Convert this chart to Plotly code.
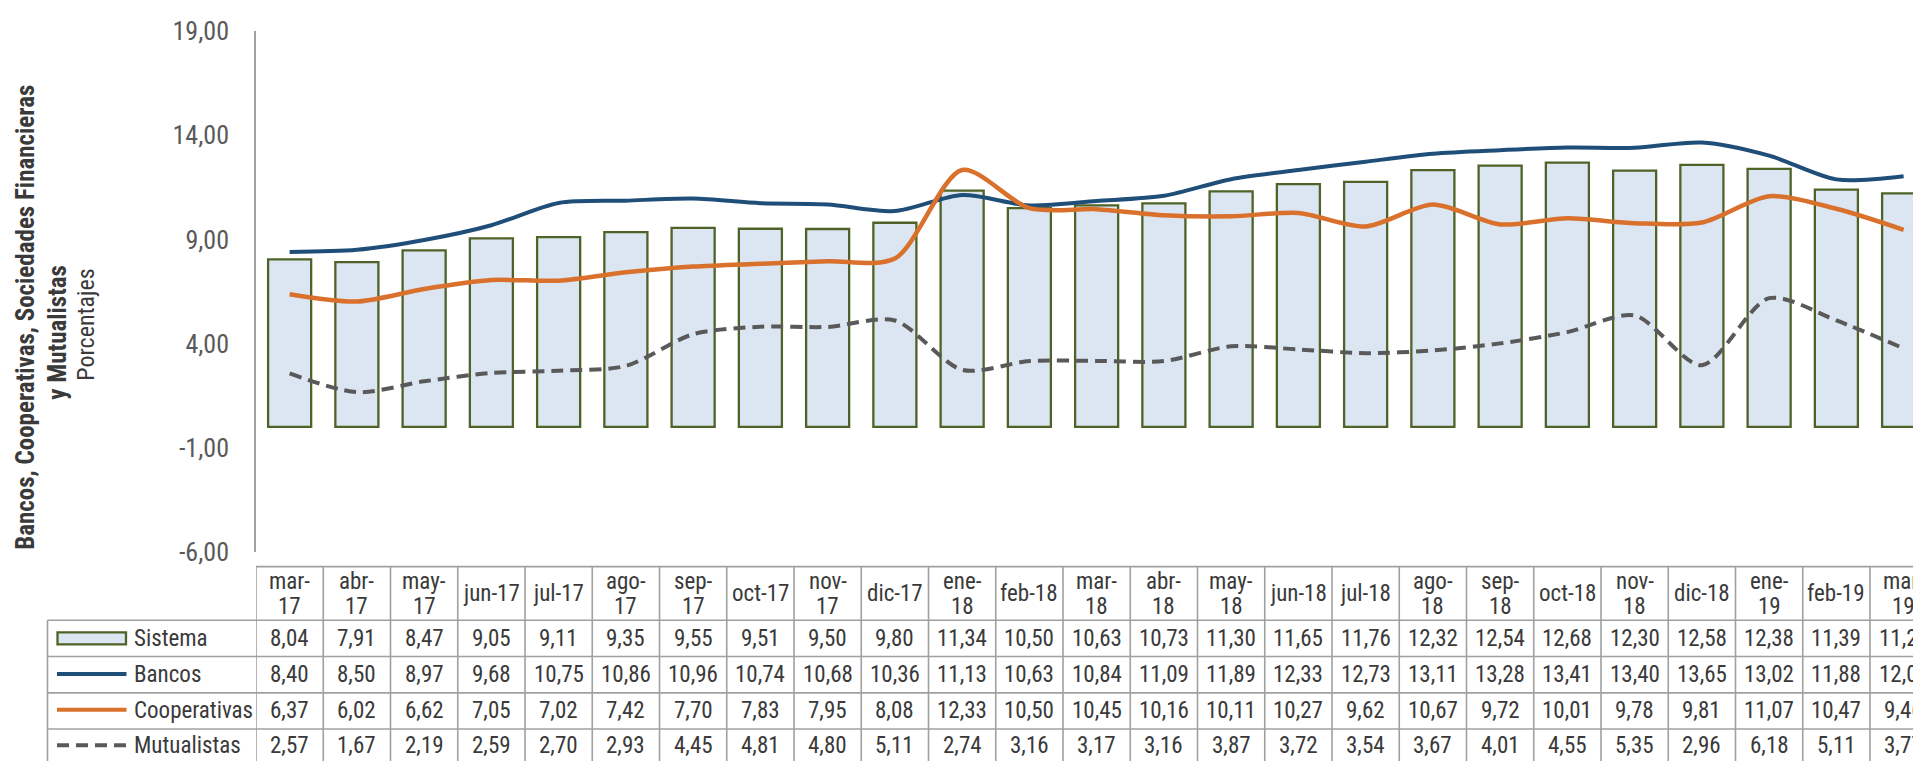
import plotly.graph_objects as go

# --- data -------------------------------------------------------------
months = ["mar-17", "abr-17", "may-17", "jun-17", "jul-17", "ago-17", "sep-17",
          "oct-17", "nov-17", "dic-17", "ene-18", "feb-18", "mar-18", "abr-18",
          "may-18", "jun-18", "jul-18", "ago-18", "sep-18", "oct-18", "nov-18",
          "dic-18", "ene-19", "feb-19", "mar-19"]
# header text as wrapped in the data table
header_labels = ["mar-|17", "abr-|17", "may-|17", "jun-17", "jul-17", "ago-|17", "sep-|17",
                 "oct-17", "nov-|17", "dic-17", "ene-|18", "feb-18", "mar-|18", "abr-|18",
                 "may-|18", "jun-18", "jul-18", "ago-|18", "sep-|18", "oct-18", "nov-|18",
                 "dic-18", "ene-|19", "feb-19", "mar-|19"]

sistema = [8.04, 7.91, 8.47, 9.05, 9.11, 9.35, 9.55, 9.51, 9.50, 9.80, 11.34, 10.50,
           10.63, 10.73, 11.30, 11.65, 11.76, 12.32, 12.54, 12.68, 12.30, 12.58, 12.38,
           11.39, 11.21]
bancos = [8.40, 8.50, 8.97, 9.68, 10.75, 10.86, 10.96, 10.74, 10.68, 10.36, 11.13, 10.63,
          10.84, 11.09, 11.89, 12.33, 12.73, 13.11, 13.28, 13.41, 13.40, 13.65, 13.02,
          11.88, 12.03]
cooperativas = [6.37, 6.02, 6.62, 7.05, 7.02, 7.42, 7.70, 7.83, 7.95, 8.08, 12.33, 10.50,
                10.45, 10.16, 10.11, 10.27, 9.62, 10.67, 9.72, 10.01, 9.78, 9.81, 11.07,
                10.47, 9.46]
mutualistas = [2.57, 1.67, 2.19, 2.59, 2.70, 2.93, 4.45, 4.81, 4.80, 5.11, 2.74, 3.16,
               3.17, 3.16, 3.87, 3.72, 3.54, 3.67, 4.01, 4.55, 5.35, 2.96, 6.18, 5.11,
               3.77]

y_ticks = [-6, -1, 4, 9, 14, 19]

# --- style -------------------------------------------------------------
W, H = 1921, 761
PAGE = 8                      # default body margin of the html page
L, T, B, R = 256 - PAGE, 27 - PAGE, 761 - 552 + PAGE, PAGE
PLOT_W, PLOT_H = W - L - R, H - T - B
CAT_W = 67.25
NARROW = "Roboto Condensed, Liberation Sans Narrow, Arial Narrow, sans-serif"
TXT = "#3A3A3A"
GRID = "#A0A0A0"
TBL_SIZE = 23

C_BAR, C_BAR_LINE = "#DCE6F2", "#4F6228"
C_BAN, C_COO, C_MUT = "#1F4E79", "#D9702C", "#595959"
MUT_DASH = "12px,7px"


def fmt(v):
    return f"{v:.2f}".replace(".", ",")


def px(x):   # screen pixel -> paper x
    return (x - PAGE - L) / PLOT_W


def py(y):   # screen pixel -> paper y
    return (H - B - (y - PAGE)) / PLOT_H


fig = go.Figure()
fig.add_trace(go.Bar(x=months, y=sistema, name="Sistema",
                     marker=dict(color=C_BAR, line=dict(color=C_BAR_LINE, width=2.3))))
fig.add_trace(go.Scatter(x=months, y=bancos, name="Bancos", mode="lines",
                         line=dict(color=C_BAN, width=4, shape="spline", smoothing=0.8)))
fig.add_trace(go.Scatter(x=months, y=cooperativas, name="Cooperativas", mode="lines",
                         line=dict(color=C_COO, width=4.5, shape="spline", smoothing=0.8)))
fig.add_trace(go.Scatter(x=months, y=mutualistas, name="Mutualistas", mode="lines",
                         line=dict(color=C_MUT, width=4, dash=MUT_DASH,
                                   shape="spline", smoothing=0.8)))

shapes, annos = [], []

# data table grid
head_top, rows_y = 566.7, [620.7, 657.3, 694, 730.3, 775]
shapes.append(dict(type="line", xref="paper", yref="paper", x0=0, x1=1.01,
                   y0=py(head_top), y1=py(head_top), line=dict(color=GRID, width=1.6)))
for ry in rows_y[:-1]:
    shapes.append(dict(type="line", xref="paper", yref="paper", x0=px(47.5), x1=1.01,
                       y0=py(ry), y1=py(ry), line=dict(color=GRID, width=1.6)))
shapes.append(dict(type="line", xref="paper", yref="paper", x0=px(47.5), x1=px(47.5),
                   y0=py(620.7), y1=py(775), line=dict(color=GRID, width=1.6)))
for k in range(len(months) + 1):
    shapes.append(dict(type="line", xref="x", yref="paper", x0=k - 0.5, x1=k - 0.5,
                       y0=py(head_top), y1=py(775), line=dict(color=GRID, width=1.6)))

# header labels
for k, lab in enumerate(header_labels):
    parts = lab.split("|")
    ys = [594] if len(parts) == 1 else [582, 606.5]
    for part, yy in zip(parts, ys):
        annos.append(dict(x=k, y=py(yy), xref="x", yref="paper", text=part,
                          showarrow=False, xanchor="center", yanchor="middle",
                          font=dict(family=NARROW, size=TBL_SIZE, color=TXT)))

# legend column + values
series = [("Sistema", sistema), ("Bancos", bancos),
          ("Cooperativas", cooperativas), ("Mutualistas", mutualistas)]
row_mid = [639, 675.5, 712, 746.7]
for (name, vals), cy in zip(series, row_mid):
    annos.append(dict(x=px(132), y=py(cy), xref="paper", yref="paper", text=name,
                      showarrow=False, xanchor="left", yanchor="middle",
                      font=dict(family=NARROW, size=TBL_SIZE, color=TXT)))
    for k, v in enumerate(vals):
        annos.append(dict(x=k, y=py(cy), xref="x", yref="paper", text=fmt(v),
                          showarrow=False, xanchor="center", yanchor="middle",
                          font=dict(family=NARROW, size=TBL_SIZE, color=TXT)))

# legend keys
shapes.append(dict(type="rect", xref="paper", yref="paper", x0=px(57.5), x1=px(126),
                   y0=py(645), y1=py(633), fillcolor=C_BAR,
                   line=dict(color=C_BAR_LINE, width=2.3)))
for cy, col, dash in [(675, C_BAN, "solid"), (711, C_COO, "solid"), (746.7, C_MUT, MUT_DASH)]:
    shapes.append(dict(type="line", xref="paper", yref="paper", x0=px(57), x1=px(126.5),
                       y0=py(cy), y1=py(cy), line=dict(color=col, width=4, dash=dash)))

# axis title (three rotated lines)
for text, xx, yy, size in [("<b>Bancos, Cooperativas, Sociedades Financieras</b>", 26, 316, 25),
                           ("<b>y Mutualistas</b>", 58, 331, 25),
                           ("Porcentajes", 86, 323, 24)]:
    annos.append(dict(x=px(xx), y=py(yy), xref="paper", yref="paper", text=text,
                      textangle=-90, showarrow=False, xanchor="center", yanchor="middle",
                      font=dict(family=NARROW, size=size, color=TXT)))

fig.update_layout(
    width=W, height=H, autosize=False,
    margin=dict(l=L, r=R, t=T, b=B, pad=0),
    paper_bgcolor="white", plot_bgcolor="white",
    showlegend=False, bargap=0.36,
    separators=",.",
    shapes=shapes, annotations=annos,
    xaxis=dict(visible=False, range=[-0.5, -0.5 + PLOT_W / CAT_W]),
    yaxis=dict(range=[-6, 19], tickvals=y_ticks, ticktext=[fmt(t) for t in y_ticks],
               showgrid=False, zeroline=False, showline=True, linecolor=GRID,
               linewidth=1.6, ticks="", ticklabelstandoff=20,
               tickfont=dict(family=NARROW, size=26, color="#595959")),
)

fig.write_html("out.html")
